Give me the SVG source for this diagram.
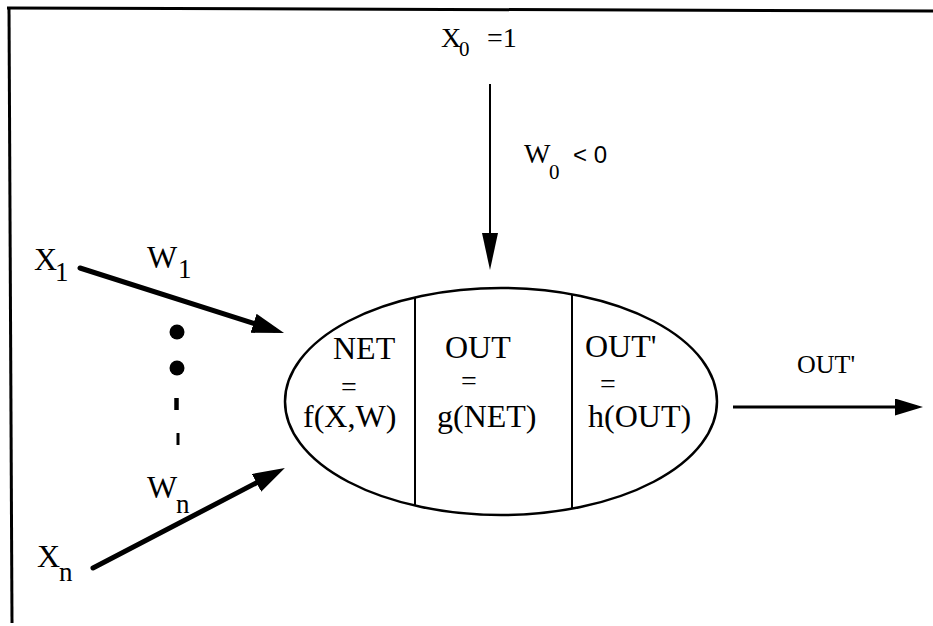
<svg xmlns="http://www.w3.org/2000/svg" width="933" height="626" viewBox="0 0 933 626">
<style>
  .t { font-family: "Liberation Serif", "Times New Roman", serif; fill: #000; }
  .big { font-size: 32px; }
  .sub { font-size: 27px; }
  .mid { font-size: 28px; }
  .sm { font-size: 21px; }
  .eq { font-size: 28px; }
  .sans { font-family: "Liberation Sans", Arial, sans-serif; font-size: 24px; fill: #000; }
  .frame { stroke: #000; stroke-width: 3; fill: none; }
  .conn { stroke: #000; fill: none; }
  .shape { stroke: #000; stroke-width: 2.5; fill: #fff; }
  .div { stroke: #000; stroke-width: 2; }
</style>
<defs>
  <marker id="headL" markerUnits="userSpaceOnUse" markerWidth="34" markerHeight="22" refX="22" refY="10" orient="auto">
    <path d="M0,0 L32,10 L0,20 Z" fill="#000"/>
  </marker>
  <marker id="headT" markerUnits="userSpaceOnUse" markerWidth="38" markerHeight="18" refX="30" refY="8" orient="auto">
    <path d="M0,0 L37,8 L0,16 Z" fill="#000"/>
  </marker>
  <marker id="headR" markerUnits="userSpaceOnUse" markerWidth="30" markerHeight="18" refX="22" refY="8.5" orient="auto">
    <path d="M0,0 L28,8.5 L0,17 Z" fill="#000"/>
  </marker>
</defs>

<g id="frame">
  <line class="frame" x1="7" y1="8" x2="933" y2="11"/>
  <line class="frame" x1="9" y1="7" x2="12" y2="623"/>
</g>

<g id="connectors">
  <line class="conn" stroke-width="2" x1="490" y1="84" x2="490" y2="263" marker-end="url(#headT)"/>
  <line class="conn" stroke-width="5" stroke-linecap="round" x1="80" y1="268" x2="274.5" y2="330" marker-end="url(#headL)"/>
  <line class="conn" stroke-width="5" stroke-linecap="round" x1="93" y1="568" x2="276" y2="472.6" marker-end="url(#headL)"/>
  <line class="conn" stroke-width="3" x1="733" y1="407" x2="917" y2="407" marker-end="url(#headR)"/>
</g>

<g id="ellipsis">
  <circle cx="177" cy="332" r="7.5" fill="#000"/>
  <circle cx="177" cy="368" r="7.5" fill="#000"/>
  <line x1="176.5" y1="398" x2="176.5" y2="410" stroke="#000" stroke-width="4.5"/>
  <line x1="178" y1="433" x2="178" y2="445" stroke="#000" stroke-width="3"/>
</g>

<g id="neuron">
  <ellipse class="shape" cx="501" cy="401.5" rx="216" ry="113.5"/>
  <line class="div" x1="415" y1="297.5" x2="415" y2="505.5"/>
  <line class="div" x1="572" y1="294.5" x2="572" y2="508.5"/>
</g>

<g id="cell-net">
  <text class="t big" x="333" y="359">NET</text>
  <text class="t eq" x="341" y="396">=</text>
  <text class="t big" x="303" y="427">f(X,W)</text>
</g>
<g id="cell-out">
  <text class="t big" x="445" y="358">OUT</text>
  <text class="t eq" x="461" y="390">=</text>
  <text class="t big" x="437" y="427">g(NET)</text>
</g>
<g id="cell-outp">
  <text class="t big" x="585" y="357">OUT'</text>
  <text class="t eq" x="600" y="393">=</text>
  <text class="t big" x="588" y="427">h(OUT)</text>
</g>

<g id="label-x0">
  <text class="t mid" x="441" y="47">X</text>
  <text class="t sm" x="459" y="56">0</text>
  <text class="t mid" x="487" y="47">=1</text>
</g>
<g id="label-w0">
  <text class="t mid" x="524" y="163">W</text>
  <text class="t sm" x="549" y="179">0</text>
  <text class="sans" x="573" y="163">&lt; 0</text>
</g>
<g id="label-x1">
  <text class="t big" x="34" y="270">X</text>
  <text class="t sub" x="55" y="281">1</text>
</g>
<g id="label-w1">
  <text class="t big" x="147" y="268">W</text>
  <text class="t sub" x="178" y="278">1</text>
</g>
<g id="label-wn">
  <text class="t big" x="147" y="498">W</text>
  <text class="t sub" x="176" y="513">n</text>
</g>
<g id="label-xn">
  <text class="t big" x="37" y="567">X</text>
  <text class="t sub" x="59" y="581">n</text>
</g>
<g id="label-out">
  <text class="t" font-size="26" x="797" y="373">OUT'</text>
</g>
</svg>
